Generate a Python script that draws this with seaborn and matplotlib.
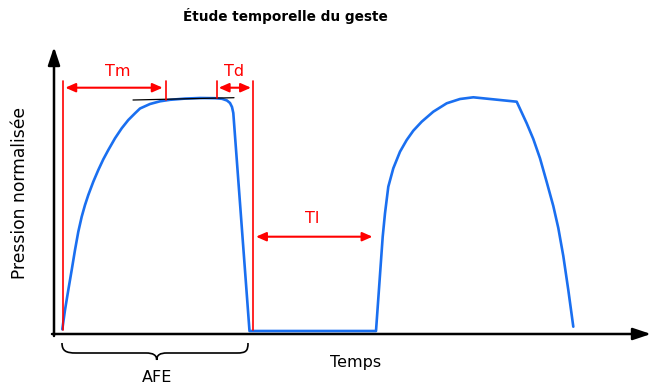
import numpy as np
import pandas as pd
import seaborn as sns
import matplotlib
matplotlib.use("Agg")
import matplotlib.pyplot as plt
from matplotlib.path import Path
from matplotlib.patches import PathPatch

# Pressure trace: two gestures (time in arbitrary units, pressure in arbitrary units)
temps = [8.3, 11, 14.3, 17.7, 21, 24.3, 27.7, 31, 34.3, 39.3, 44.3, 49.3, 54.3, 61, 67.7, 74.3,
         81, 86, 96, 106, 116, 131, 146, 161, 168, 173, 176, 178, 179.3,
         195.5, 322,
         328.7, 331, 334.3, 339.3, 346, 352.7, 359.3, 367.7, 379.3, 392.7, 406, 419.3,
         462.7, 472.7, 479.3, 486, 492.7, 499.3, 504.3, 509.3, 514.3, 519.3]
pression = [4.7, 24, 44, 64, 84, 102.3, 117.3, 129, 139, 152.3, 164, 174.7, 184, 195.7, 205.7, 214,
            220.7, 225.5, 230, 232.7, 234.2, 235.4, 236, 235.8, 235.2, 233.5, 231, 227, 221,
            3, 3,
            97.3, 120.7, 147.3, 165.7, 182.3, 194, 203.3, 212.3, 222.3, 230.7, 235, 236.7,
            232.3, 210.7, 195, 175.7, 152, 128, 106, 78, 44, 7.3]

# Timing markers
t_debut = 9.3      # start of the gesture
t_montee = 111.7   # end of rise time Tm
t_descente = 162.7 # start of decay Td
t_fin = 199.0      # end of the gesture
t_latence = 318.5  # end of latency Tl

labels = ["Tm", "Td", "Tl"]

sns.set_theme(style="white")
plt.rcParams["font.family"] = ["DejaVu Sans"]
plt.rcParams["text.color"] = "black"

fig = plt.figure(figsize=(6.51, 3.87), dpi=100)
ax = fig.add_axes([54 / 651, 53 / 387, 597 / 651, 287 / 387])
ax.set_xlim(0, 597)
ax.set_ylim(0, 287)
for s in ax.spines.values():
    s.set_visible(False)
ax.set_xticks([])
ax.set_yticks([])

df = pd.DataFrame({"Temps": temps, "Pression": pression})
sns.lineplot(data=df, x="Temps", y="Pression", sort=False, estimator=None,
             color="#1a6ff0", lw=1.9, ax=ax, solid_joinstyle="round")
ax.set_xlabel("")
ax.set_ylabel("")

# Axes with arrowheads
arrow_kw = dict(arrowstyle="-|>,head_length=0.9,head_width=0.3", color="black", lw=1.8,
                shrinkA=0, shrinkB=0, mutation_scale=12)
ax.annotate("", xy=(597, 0), xytext=(-2, 0), arrowprops=arrow_kw, annotation_clip=False)
ax.annotate("", xy=(0, 287), xytext=(0, -2), arrowprops=arrow_kw, annotation_clip=False)

# Plateau tangent
ax.plot([79, 180], [234, 236.3], color="black", lw=0.9)

# Red marker lines
red = "#ff0000"
ax.plot([t_debut, t_debut], [4, 253], color=red, lw=1.2)
ax.plot([t_montee, t_montee], [234, 253], color=red, lw=1.2)
ax.plot([t_descente, t_descente], [236, 253], color=red, lw=1.2)
ax.plot([t_fin, t_fin], [4, 253], color=red, lw=1.2)

dbl = dict(arrowstyle="<|-|>,head_length=0.5,head_width=0.22", color=red, lw=1.5,
           shrinkA=0, shrinkB=0, mutation_scale=12)
ax.annotate("", xy=(t_montee - 3, 246.3), xytext=(t_debut + 2, 246.3), arrowprops=dbl)
ax.annotate("", xy=(t_fin - 2, 246.3), xytext=(t_descente + 2, 246.3), arrowprops=dbl)
ax.annotate("", xy=(t_latence, 97.3), xytext=(t_fin + 3, 97.3), arrowprops=dbl)

ax.text(64, 262, labels[0], color=red, fontsize=11.5, ha="center", va="center")
ax.text(180, 262, labels[1], color=red, fontsize=11.5, ha="center", va="center")
ax.text(258, 115, labels[2], color=red, fontsize=11.5, ha="center", va="center")

# Brace under the first gesture
verts = [(8, -9), (8, -17), (12, -19), (22, -19),
         (92, -19),
         (99, -19), (102.7, -21), (102.7, -26),
         (102.7, -21), (106, -19), (113, -19),
         (183, -19),
         (192, -19), (194, -17), (194, -9)]
codes = [Path.MOVETO, Path.CURVE4, Path.CURVE4, Path.CURVE4,
         Path.LINETO,
         Path.CURVE4, Path.CURVE4, Path.CURVE4,
         Path.CURVE4, Path.CURVE4, Path.CURVE4,
         Path.LINETO,
         Path.CURVE4, Path.CURVE4, Path.CURVE4]
ax.add_patch(PathPatch(Path(verts, codes), fill=False, lw=1.2, color="black", clip_on=False))
ax.text(103, -43, "AFE", fontsize=11.5, ha="center", va="center", clip_on=False)

ax.text(302, -28, "Temps", fontsize=11.5, ha="center", va="center", clip_on=False)
ax.text(-34, 141, "Pression normalisée", fontsize=12.3, rotation=90,
        ha="center", va="center", clip_on=False)

fig.text(285 / 651, 1 - 16 / 387, "Étude temporelle du geste", fontsize=9.8,
         fontweight="bold", ha="center", va="center")

fig.savefig("out.png", dpi=100)
